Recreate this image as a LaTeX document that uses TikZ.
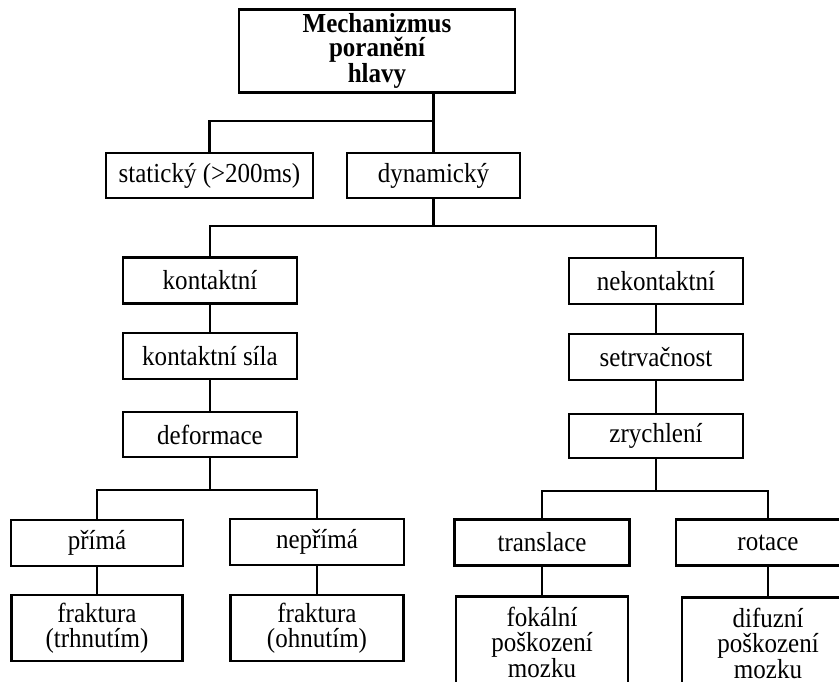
\documentclass[tikz,border=0pt]{standalone}
\usepackage{fontspec}
\setmainfont{Liberation Serif}[FakeStretch=0.91]
\begin{document}
\begin{tikzpicture}[x=1pt,y=-1pt,
  box/.style={draw, line width=2.7pt, minimum width=#1, minimum height=46pt,
    inner sep=0pt, align=center, font=\fontsize{27.5}{24.5}\selectfont},
  box/.default=174pt,
  link/.style={line width=2.5pt}]
\useasboundingbox (0,0) rectangle (839,682);
\clip (0,0) rectangle (839,682);

% root
\node[box=276pt, minimum height=83pt, font=\bfseries\fontsize{27.5}{24}\selectfont]
  (head) at (377,51) {Mechanizmus\\poranění\\hlavy};

% first split
\node[box=207pt, minimum height=45pt] (stat) at (209.5,175.5) {statický (>200ms)};
\node[box=173pt, minimum height=45pt] (dyn) at (433.5,175.5) {dynamický};

% contact branch
\node[box] (kon)  at (210,280.5) {kontaktní};
\node[box] (sila) at (210,356)   {kontaktní síla};
\node[box, minimum height=45pt] (def) at (210,434.5) {deformace};
\node[box=172pt] (prima)   at (97,543)  {přímá};
\node[box]       (neprima) at (317,542) {nepřímá};
\node[box=171pt, minimum height=66pt] (frt) at (97,628)  {fraktura\\(trhnutím)};
\node[box=173pt, minimum height=66pt] (fro) at (317,628) {fraktura\\(ohnutím)};

% non-contact branch
\node[box] (nek)  at (656,281) {nekontaktní};
\node[box] (setr) at (656,357) {setrvačnost};
\node[box, minimum height=44pt] (zry) at (656,436) {zrychlení};
\node[box=175pt] (trans) at (542,542.5) {translace};
\node[box=184pt] (rot)   at (768,542.5) {rotace};
\node[box=172pt, minimum height=92pt, anchor=north] (fok) at (542,595) {fokální\\poškození\\mozku};
\node[box=172pt, minimum height=92pt, anchor=north] (dif) at (768,596) {difuzní\\poškození\\mozku};

% connectors
\coordinate (j1) at (dyn.north |- 0,121);
\draw[link] (head.south -| dyn.north) -- (dyn.north);
\draw[link] (j1) -| (stat.north);

\coordinate (j2) at (dyn.south |- 0,226);
\draw[link] (dyn.south) -- (j2);
\draw[link] (kon.north) |- (j2) -| (nek.north);

\draw[link] (kon.south) -- (sila.north);
\draw[link] (sila.south) -- (def.north);
\draw[link] (nek.south) -- (setr.north);
\draw[link] (setr.south) -- (zry.north);

\coordinate (j3) at (def.south |- 0,490);
\draw[link] (def.south) -- (j3);
\draw[link] (prima.north) |- (j3) -| (neprima.north);
\draw[link] (prima.south) -- (frt.north);
\draw[link] (neprima.south) -- (fro.north);

\coordinate (j4) at (zry.south |- 0,491);
\draw[link] (zry.south) -- (j4);
\draw[link] (trans.north) |- (j4) -| (rot.north);
\draw[link] (trans.south) -- (fok.north);
\draw[link] (rot.south) -- (dif.north);
\end{tikzpicture}
\end{document}
